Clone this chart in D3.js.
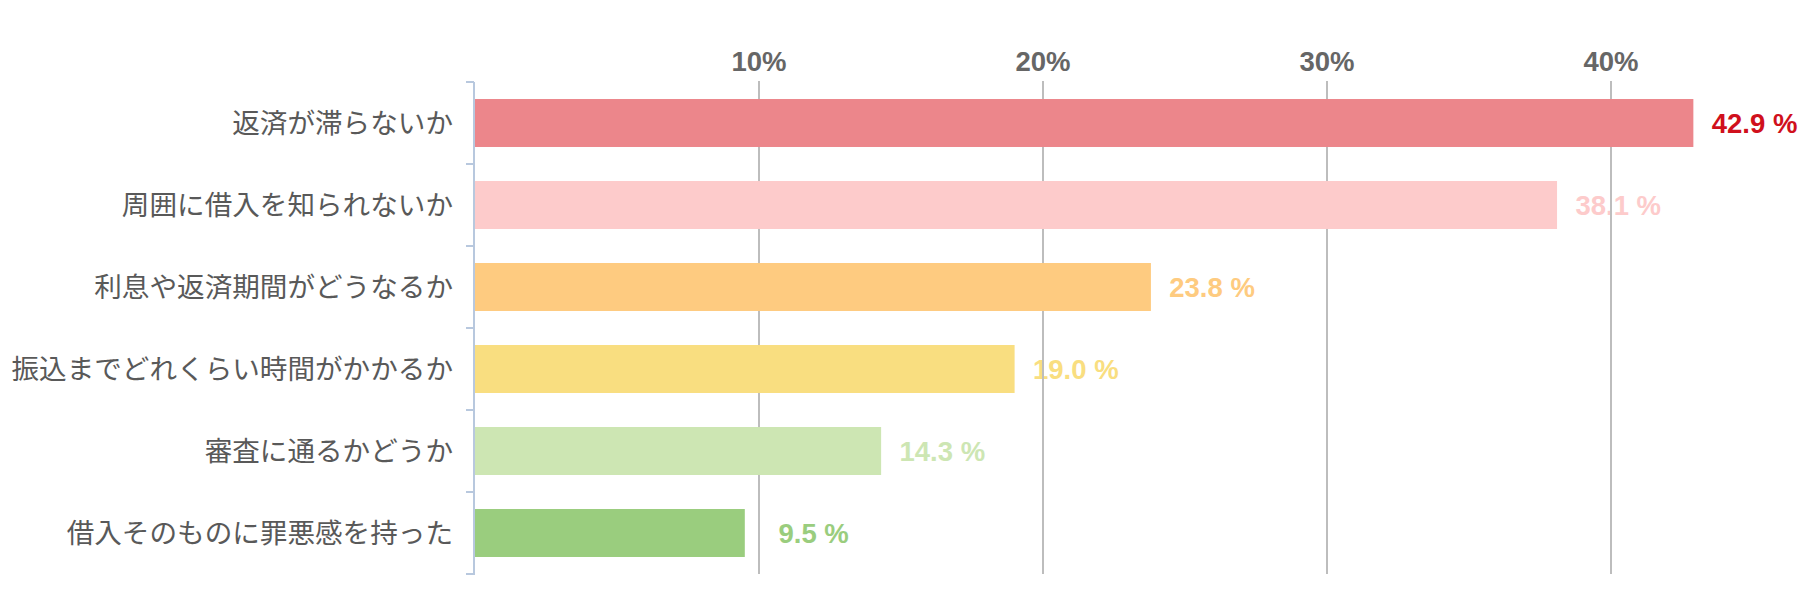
<!DOCTYPE html>
<html><head><meta charset="utf-8">
<script src="https://cdn.jsdelivr.net/npm/d3@7"></script>
<style>
html,body{margin:0;padding:0;background:#fff;}
svg{display:block;}
</style></head>
<body>
<svg id="chart" width="1815" height="599"></svg>
<script>
const categories = ["返済が滞らないか","周囲に借入を知られないか","利息や返済期間がどうなるか","振込までどれくらい時間がかかるか","審査に通るかどうか","借入そのものに罪悪感を持った"];
const values = [42.9, 38.1, 23.8, 19.0, 14.3, 9.5];
const barColors = ["#ec868b","#fdcbcb","#fecb80","#f9de80","#cde6b3","#9acd7e"];
const labelColors = ["#d0101c","#fdcbcb","#fecb80","#f9de80","#cde6b3","#9acd7e"];
const tickValues = [10, 20, 30, 40];

const svg = d3.select("#chart");
const x = d3.scaleLinear().domain([0, 45]).range([475, 475 + 45 * 28.4]);
const y = d3.scaleBand().domain(categories).range([82, 574]).paddingInner(0.415).paddingOuter(0.2075);

// value labels (under gridlines)
svg.append("g").selectAll("text").data(values).join("text")
  .attr("x", d => x(d) + 104)
  .attr("y", (d, i) => y(categories[i]) + y.bandwidth() / 2)
  .attr("dy", "0.35em")
  .attr("text-anchor", "end")
  .attr("font-family", "'Liberation Sans', Arial, sans-serif")
  .attr("font-weight", "bold")
  .attr("font-size", "27.5px")
  .attr("fill", (d, i) => labelColors[i])
  .text(d => d.toFixed(1) + " %");

// gridlines
svg.append("g").selectAll("line").data(tickValues).join("line")
  .attr("x1", d => x(d)).attr("x2", d => x(d))
  .attr("y1", 81).attr("y2", 574)
  .attr("stroke", "#bdbdbd").attr("stroke-width", 2);

// tick labels
svg.append("g").selectAll("text").data(tickValues).join("text")
  .attr("x", d => x(d)).attr("y", 71)
  .attr("text-anchor", "middle")
  .attr("font-family", "'Liberation Sans', Arial, sans-serif")
  .attr("font-weight", "bold")
  .attr("font-size", "27.5px")
  .attr("fill", "#666")
  .text(d => d + "%");

// bars
svg.append("g").selectAll("rect").data(values).join("rect")
  .attr("x", x(0))
  .attr("y", (d, i) => y(categories[i]))
  .attr("width", d => x(d) - x(0))
  .attr("height", y.bandwidth())
  .attr("fill", (d, i) => barColors[i]);

// left axis
const axisX = 474;
svg.append("line").attr("x1", axisX).attr("x2", axisX).attr("y1", 82).attr("y2", 575)
  .attr("stroke", "#b8c8de").attr("stroke-width", 2);
const boundaries = d3.range(categories.length + 1).map(i => 82 + i * y.step());
svg.append("g").selectAll("line").data(boundaries).join("line")
  .attr("x1", axisX - 8).attr("x2", axisX).attr("y1", d => d).attr("y2", d => d)
  .attr("stroke", "#b8c8de").attr("stroke-width", 2);

// category labels
svg.append("g").selectAll("text").data(categories).join("text")
  .attr("x", 453)
  .attr("y", d => y(d) + y.bandwidth() / 2)
  .attr("dy", "0.35em")
  .attr("text-anchor", "end")
  .attr("font-family", "'Noto Sans CJK JP', sans-serif")
  .attr("font-size", "27.6px")
  .attr("fill", "#595959")
  .text(d => d);
</script>
</body></html>
